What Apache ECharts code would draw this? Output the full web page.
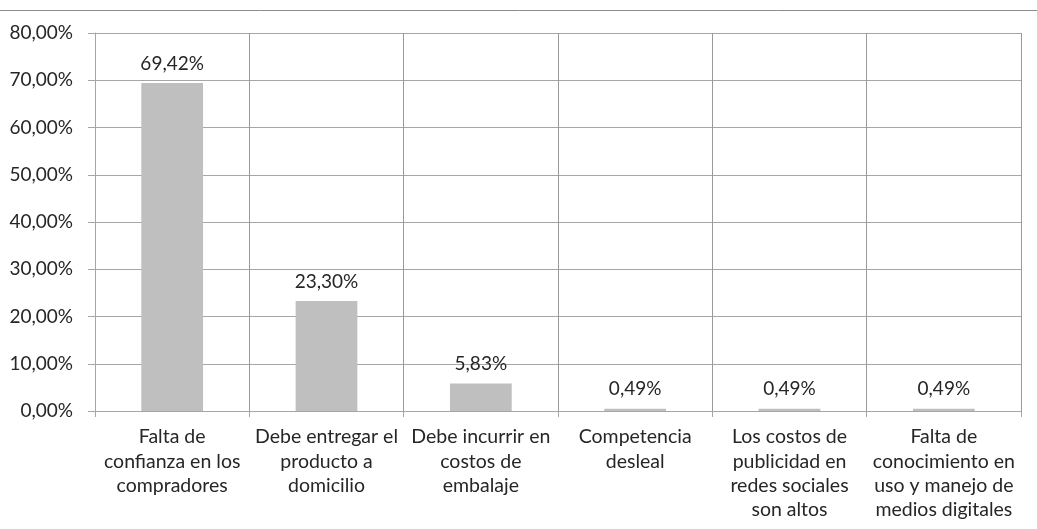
<!DOCTYPE html>
<html>
<head>
<meta charset="utf-8">
<script src="https://cdn.jsdelivr.net/npm/echarts@6/dist/echarts.min.js"></script>
<style>
  html, body { margin: 0; padding: 0; background: #fff; }
  #main { width: 1037px; height: 529px; }
</style>
</head>
<body>
<div id="main"></div>
<script>
// categorías (con saltos de línea como en el original)
const categorias = [
  'Falta de\nconfianza en los\ncompradores',
  'Debe entregar el\nproducto a\ndomicilio',
  'Debe incurrir en\ncostos de\nembalaje',
  'Competencia\ndesleal',
  'Los costos de\npublicidad en\nredes sociales\nson altos',
  'Falta de\nconocimiento en\nuso y manejo de\nmedios digitales'
]
const porcentajes = [69.42, 23.30, 5.83, 0.49, 0.49, 0.49]
const yMin = 0, yMax = 80, yPaso = 10

const fuente = 'Lato'
const fmt = v => v.toFixed(2).replace('.', ',') + '%'

var myChart = echarts.init(document.getElementById('main'), null, { renderer: 'canvas' })
myChart.setOption({
  animation: false,
  textStyle: { fontFamily: fuente },
  grid: { left: 95, right: 16, top: 33, bottom: 118, containLabel: false },
  graphic: [{
    type: 'line',
    shape: { x1: 0, y1: 10.5, x2: 1037, y2: 10.5 },
    style: { stroke: '#8c8c8c', lineWidth: 1 }
  }],
  xAxis: [{
    type: 'category',
    data: categorias,
    boundaryGap: true,
    axisLine: { show: true, lineStyle: { color: '#a6a6a6' } },
    axisTick: { show: true, length: 6, lineStyle: { color: '#a6a6a6' } },
    splitLine: { show: true, interval: 0, lineStyle: { color: '#999999' } },
    axisLabel: {
      interval: 0,
      margin: 14,
      color: '#262626',
      fontSize: 19.5,
      lineHeight: 24.3,
      fontFamily: fuente
    }
  }],
  yAxis: [{
    type: 'value',
    min: yMin,
    max: yMax,
    interval: yPaso,
    axisLine: { show: true, lineStyle: { color: '#a6a6a6' } },
    axisTick: { show: true, length: 7, lineStyle: { color: '#a6a6a6' } },
    splitLine: { show: true, lineStyle: { color: '#a6a6a6' } },
    axisLabel: {
      margin: 22,
      color: '#262626',
      fontSize: 19,
      fontFamily: fuente,
      formatter: v => v.toFixed(2).replace('.', ',') + '%'
    }
  }],
  series: [{
    type: 'bar',
    data: porcentajes,
    barWidth: '40%',
    itemStyle: { color: '#bfbfbf' },
    label: {
      show: true,
      position: 'top',
      distance: 10,
      color: '#262626',
      fontSize: 19,
      fontFamily: fuente,
      formatter: p => fmt(p.value)
    }
  }]
})
</script>
</body>
</html>
